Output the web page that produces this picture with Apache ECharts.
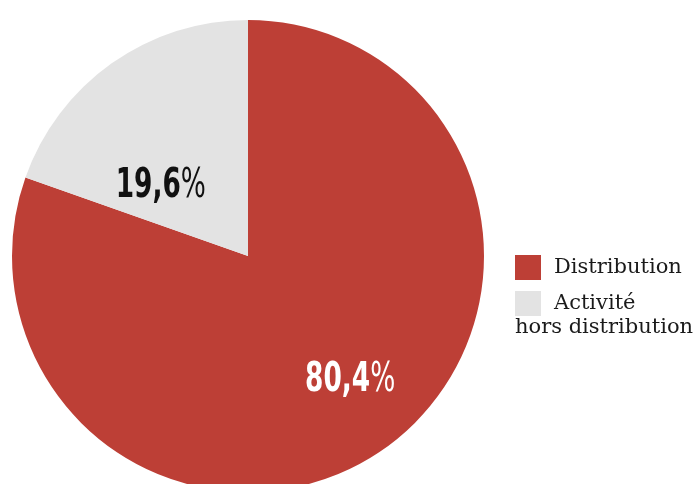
<!DOCTYPE html>
<html>
<head>
<meta charset="utf-8">
<script src="https://cdn.jsdelivr.net/npm/echarts@6/dist/echarts.min.js"></script>
<style>
  html, body { margin: 0; padding: 0; background: #ffffff; }
  #chart { width: 697px; height: 484px; }
</style>
</head>
<body>
<div id="chart"></div>
<script>
// Répartition de l'activité (en %)
const categories = ['Distribution', 'Activité hors distribution'];
const values = [80.4, 19.6];
const colors = ['#bd3f36', '#e3e3e3'];
const labelColors = ['#ffffff', '#111111'];

const chart = echarts.init(document.getElementById('chart'), null, { renderer: 'canvas' });

const fmt = v => v.toFixed(1).replace('.', ',');

// pie geometry
const CX = 248, CY = 256, R = 236, START = 90;
// label offsets from the mid-radius anchor of each slice
const labelShift = [[34, 28], [-19, 27]];
// horizontal squeeze to get a condensed look for the percentages
const SQUEEZE = 0.66;

chart.setOption({
  animation: false,
  backgroundColor: '#ffffff',
  legend: {
    orient: 'vertical',
    left: 505,
    top: 250,
    icon: 'none',
    itemWidth: 0,
    itemHeight: 0,
    itemGap: 11,
    selectedMode: false,
    data: categories,
    formatter: name => {
      if (name === categories[0]) {
        return '{sqA|}{t|Distribution}';
      }
      return '{sqB|}{t|Activité}\n{l|hors distribution}';
    },
    textStyle: {
      color: '#1a1a1a',
      fontFamily: 'DejaVu Serif',
      fontSize: 21,
      rich: {
        sqA: { width: 26, height: 25, backgroundColor: colors[0] },
        sqB: { width: 26, height: 25, backgroundColor: colors[1] },
        t: { fontFamily: 'DejaVu Serif', fontSize: 21, color: '#1a1a1a', padding: [0, 0, 0, 13], lineHeight: 25 },
        l: { fontFamily: 'DejaVu Serif', fontSize: 21, color: '#1a1a1a', lineHeight: 24 }
      }
    }
  },
  series: [{
    type: 'pie',
    center: [CX, CY],
    radius: R,
    startAngle: START,
    clockwise: true,
    silent: true,
    label: { show: false },
    labelLine: { show: false },
    data: categories.map((name, i) => ({
      name: name,
      value: values[i],
      itemStyle: { color: colors[i] }
    }))
  }]
});

// percentage labels, anchored at the middle of each slice
const total = values.reduce((a, b) => a + b, 0);
let acc = 0;
const labels = values.map((v, i) => {
  const mid = (START - 360 * (acc + v / 2) / total) * Math.PI / 180;
  acc += v;
  const ax = CX + (R / 2) * Math.cos(mid);
  const ay = CY - (R / 2) * Math.sin(mid);
  return {
    type: 'text',
    silent: true,
    z: 100,
    x: ax + labelShift[i][0],
    y: ay + labelShift[i][1],
    scaleX: SQUEEZE,
    style: {
      text: '{n|' + fmt(v) + '}{p|%}',
      align: 'center',
      verticalAlign: 'middle',
      fill: labelColors[i],
      rich: {
        n: { fontFamily: 'DejaVu Sans', fontWeight: 'bold', fontSize: 40, fill: labelColors[i] },
        p: { fontFamily: 'DejaVu Sans', fontWeight: 'normal', fontSize: 40, fill: labelColors[i] }
      }
    }
  };
});
chart.setOption({ graphic: { elements: labels } });
</script>
</body>
</html>
